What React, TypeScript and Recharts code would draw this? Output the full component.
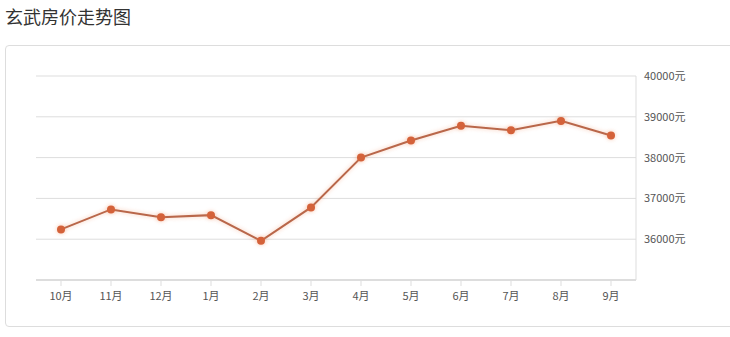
import { LineChart, Line, XAxis, YAxis, CartesianGrid } from "recharts"

const months = ["10月", "11月", "12月", "1月", "2月", "3月", "4月", "5月", "6月", "7月", "8月", "9月"]
const prices = [36240, 36730, 36540, 36590, 35960, 36780, 38000, 38420, 38780, 38670, 38900, 38540]
const yTicks = [36000, 37000, 38000, 39000, 40000]

const data = months.map((month, i) => ({ month, price: prices[i] }))

const font = "'Noto Sans CJK SC', 'Noto Sans', sans-serif"

export default function App() {
  return (
    <div style={{ position: "absolute", left: 0, top: 0, width: 730, height: 337, background: "#fff", overflow: "hidden", fontFamily: font }}>
      <div style={{ position: "absolute", left: 5, top: 4, fontSize: 18, lineHeight: "24px", color: "#333" }}>
        玄武房价走势图
      </div>
      <div
        style={{
          position: "absolute",
          left: 5,
          top: 45,
          width: 740,
          height: 280,
          border: "1px solid #ddd",
          borderRadius: 4,
        }}
      />
      <div style={{ position: "absolute", left: 0, top: 0 }}>
        <LineChart width={730} height={337} data={data} margin={{ top: 76, left: 36, right: 0, bottom: 0 }}>
          <CartesianGrid vertical={false} stroke="#ddd" />
          <XAxis
            dataKey="month"
            padding={{ left: 25, right: 25 }}
            height={57}
            axisLine={{ stroke: "#ddd", strokeWidth: 2 }}
            tickLine={{ stroke: "#ddd" }}
            tickSize={6}
            tickMargin={6}
            tick={{ fontSize: 11, fill: "#555", fontFamily: font }}
            interval={0}
          />
          <YAxis
            orientation="right"
            width={94}
            domain={[35000, 40000]}
            ticks={yTicks}
            allowDataOverflow
            axisLine={{ stroke: "#ddd" }}
            tickLine={false}
            tick={{ fontSize: 11, fill: "#555", fontFamily: font }}
            tickFormatter={(v: number) => `${v}元`}
          />
          <Line
            type="linear"
            dataKey="price"
            stroke="#b9674a"
            strokeWidth={2}
            dot={{ r: 4, fill: "#d4623a", stroke: "#d4623a", strokeWidth: 0 }}
            style={{ filter: "drop-shadow(0 0 2px rgba(240,130,80,0.45))" }}
            isAnimationActive={false}
          />
        </LineChart>
      </div>
    </div>
  )
}
